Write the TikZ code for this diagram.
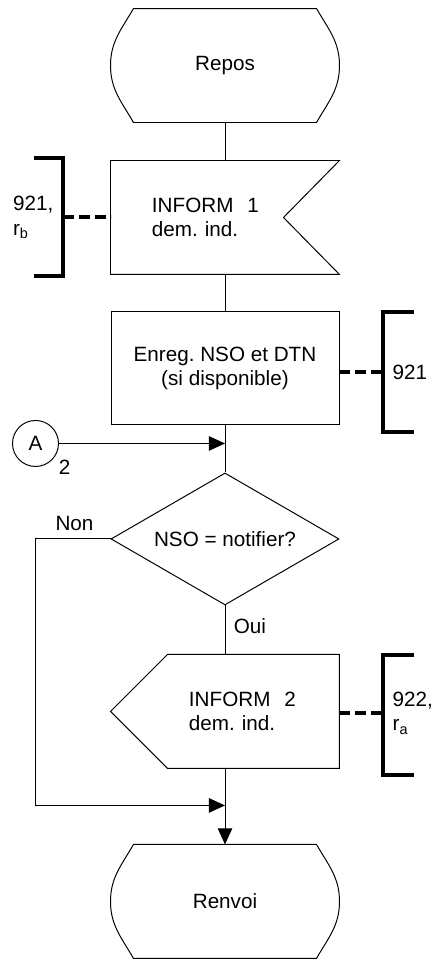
\documentclass[tikz,border=0pt]{standalone}
\usepackage{fontspec}
\setmainfont{Liberation Sans}
\usepackage{tikz}
\usetikzlibrary{shapes.geometric, arrows.meta, positioning, calc}
\tikzstyle{terminal} = [rectangle, minimum width=5.7cm, minimum height=2.825cm, text centered]
\tikzstyle{signal} = [rectangle, minimum height=2.825cm, align=left, inner ysep=0pt]
\tikzstyle{process} = [rectangle, minimum width=5.7cm, minimum height=2.825cm, align=center, draw=black]
\tikzstyle{decision} = [diamond, minimum width=5.7cm, minimum height=3.3cm, aspect=1.73, inner sep=1pt, draw=black]
\tikzstyle{connector} = [circle, minimum size=1.15cm, inner sep=0pt, draw=black]
\tikzstyle{arrow} = [-{Triangle[length=0.4cm, width=0.36cm]}]
\tikzstyle{bracket} = [line width=0.1cm]
\tikzstyle{dashline} = [line width=0.1cm, dash pattern=on 0.275cm off 0.125cm]

\begin{document}
\begin{tikzpicture}[line width=0.7pt, every node/.style={font=\fontsize{14.7pt}{17.5pt}\selectfont}]
    \useasboundingbox (-5.625,1.6375) rectangle (5.325,-22.5125);

    \node (repos) [terminal] at (0,0) {Repos};
    \node (in1) [signal, below=0.95cm of repos, text width=3.65cm, inner xsep=1.025cm] {INFORM~~1\\dem.\ ind.};
    \node (enreg) [process, below=0.925cm of in1] {Enreg.\ NSO et DTN\\(si disponible)};
    \node (dec) [decision, below=1.175cm of enreg] {NSO = notifier?};
    \node (in2) [signal, below=1.225cm of dec, xshift=0.7125cm, text width=3.225cm, inner xsep=0.525cm] {INFORM~~2\\dem.\ ind.};
    \node (renvoi) [terminal, below=1.9cm of in2, xshift=-0.7125cm] {Renvoi};

    % outlines of the terminals and signals
    \foreach \t in {repos, renvoi} {
        \draw (\t.west) to[out=90, in=-120] ($(\t.north west)+(0.575,0)$) -- ($(\t.north east)+(-0.575,0)$)
            to[out=-60, in=90] (\t.east) to[out=-90, in=60] ($(\t.south east)+(-0.575,0)$)
            -- ($(\t.south west)+(0.575,0)$) to[out=120, in=-90] (\t.west) -- cycle;
    }
    \draw (in1.north west) -- (in1.north east) -- ($(in1.east)+(-1.4,0)$) -- (in1.south east) -- (in1.south west) -- cycle;
    \draw (in2.north west) -- (in2.north east) -- (in2.south east) -- (in2.south west) -- ($(in2.west)+(-1.425,0)$) -- cycle;

    % main flow
    \draw (repos.south) -- (in1.north);
    \draw (in1.south) -- (enreg.north);
    \draw (enreg.south) -- (dec.north);
    \draw (dec.south) -- (dec.south |- in2.north);
    \draw [arrow] (renvoi.north |- in2.south) -- (renvoi.north);

    % connector A
    \coordinate (j1) at ($(enreg.south)+(0,-0.45)$);
    \node (conA) [connector, left=4.15cm of j1] {A};
    \node (n2) at ($(conA)+(0.725,-0.6)$) {2};
    \draw [arrow] (conA.east) -- (j1);

    % Non / Oui
    \coordinate (j2) at ($(renvoi.north)+(0,0.975)$);
    \node (non) at ($(dec.west)+(-0.9,0.375)$) {Non};
    \node (oui) at ($(dec.south)+(0.625,-0.525)$) {Oui};
    \draw [arrow] (dec.west) -- (dec.west -| conA) -- (conA |- j2) -- (j2);

    % comments
    \coordinate (k1) at ($(in1.west)+(-1.2,0)$);
    \draw [dashline] (k1) -- (in1.west);
    \draw [bracket] ($(k1)+(-0.725,1.475)$) -| ($(k1)+(0,-1.475)$) -- ++(-0.725,0);
    \node (t1) [left=0.1cm of k1, align=left] {921,\\r\textsubscript{b}};

    \coordinate (k2) at ($(enreg.east)+(1.1,-0.1)$);
    \draw [dashline] ($(enreg.east)+(0,-0.1)$) -- (k2);
    \draw [bracket] ($(k2)+(0.775,1.5)$) -| ($(k2)+(0,-1.5)$) -- ++(0.775,0);
    \node (t2) [right=0.1cm of k2] {921};

    \coordinate (k3) at ($(in2.east)+(1.1,-0.04)$);
    \draw [dashline] ($(in2.east)+(0,-0.04)$) -- (k3);
    \draw [bracket] ($(k3)+(0.775,1.45)$) -| ($(k3)+(0,-1.55)$) -- ++(0.775,0);
    \node (t3) [right=0.1cm of k3, align=left] {922,\\r\textsubscript{a}};
\end{tikzpicture}
\end{document}
